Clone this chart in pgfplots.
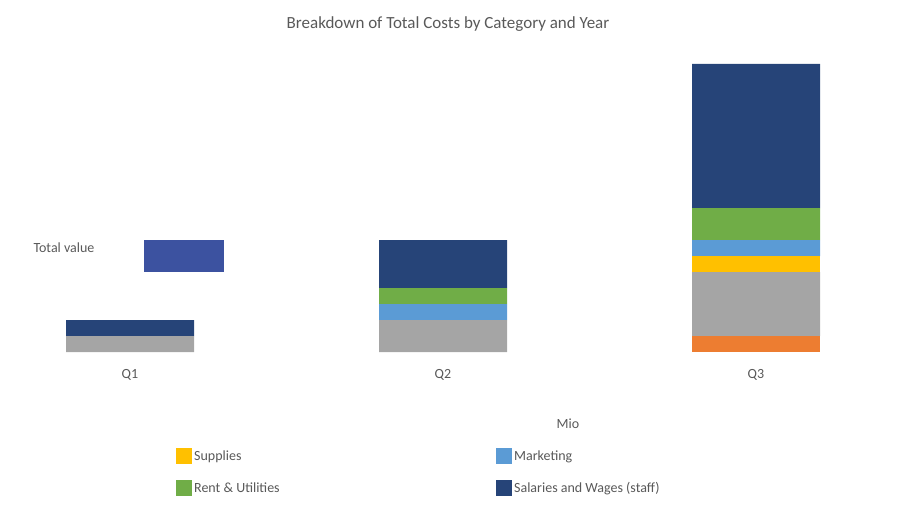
\documentclass[border=0pt]{standalone}
\usepackage{pgfplots}
\pgfplotsset{compat=1.18}
\usepackage{fontspec}
\setmainfont{Carlito}

\definecolor{cOrange}{HTML}{ED7D31}
\definecolor{cGray}{HTML}{A5A5A5}
\definecolor{cGold}{HTML}{FFC000}
\definecolor{cLBlue}{HTML}{5B9BD5}
\definecolor{cGreen}{HTML}{70AD47}
\definecolor{cDBlue}{HTML}{264478}
\definecolor{cBox}{HTML}{3C52A0}
\definecolor{cText}{HTML}{595959}

\begin{document}
\begin{tikzpicture}[x=1pt,y=1pt]
\useasboundingbox (0,0) rectangle (900,512);
\begin{axis}[
  at={(4.8pt,160pt)}, anchor=south west,
  scale only axis, width=876.4pt, height=320pt,
  xmin=-0.4, xmax=2.4, ymin=0, ymax=100,
  ybar stacked, bar width=128pt,
  axis line style={draw=none}, major tick length=0pt,
  ytick=\empty, xtick={0,1,2}, xticklabels={{Q1},{Q2},{Q3}},
  xticklabel style={font=\fontsize{14}{16}\selectfont, text=cText, yshift=-14pt},
  legend columns=2,
  legend style={at={(0.1953,-0.30)}, anchor=north west, draw=none,
    inner sep=0pt, font=\fontsize{14}{16}\selectfont, text=cText,
    row sep=16pt,
    /tikz/every even column/.append style={column sep=0pt}},
  legend cell align=left,
  legend image code/.code={\fill[#1,draw=none] (0pt,-8pt) rectangle (16pt,8pt);},
]
\addplot[fill=cOrange, draw=none, forget plot] coordinates {(0,0) (1,0) (2,5)};
\addplot[fill=cGray, draw=none, forget plot] coordinates {(0,5) (1,10) (2,20)};
\addplot[fill=cGold, draw=none] coordinates {(0,0) (1,0) (2,5)};
\addplot[fill=cLBlue, draw=none] coordinates {(0,0) (1,5) (2,5)};
\addplot[fill=cGreen, draw=none] coordinates {(0,0) (1,5) (2,10)};
\addplot[fill=cDBlue, draw=none] coordinates {(0,5) (1,15) (2,45)};
\legend{\makebox[300pt][l]{Supplies}, Marketing, \makebox[300pt][l]{Rent \& Utilities}, Salaries and Wages (staff)}
\end{axis}
\node[font=\fontsize{17}{20}\selectfont, text=cText] at (448,488) {Breakdown of Total Costs by Category and Year};
\node[font=\fontsize{14}{16}\selectfont, text=cText, anchor=west] at (30,264) {Total value};
\fill[cBox] (144,240) rectangle (224,272);
\node[font=\fontsize{14}{16}\selectfont, text=cText] at (568,88) {Mio};
\end{tikzpicture}
\end{document}
